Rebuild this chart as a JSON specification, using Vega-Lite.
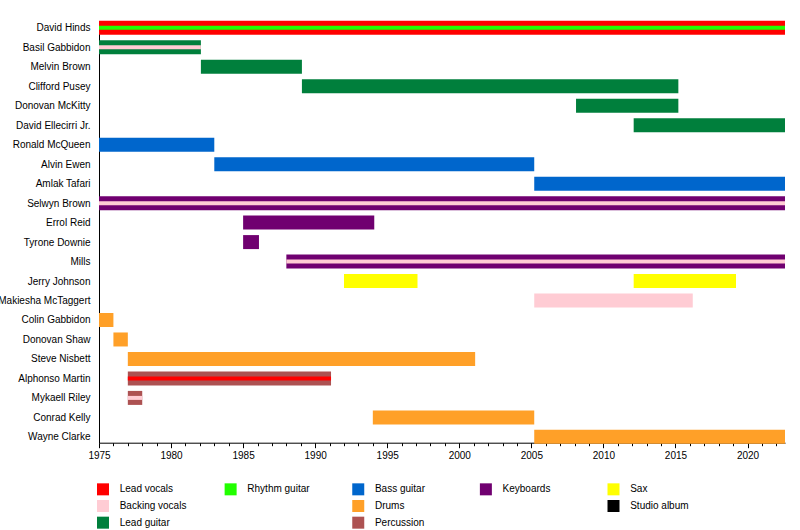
{
  "$schema": "https://vega.github.io/schema/vega-lite/v6.json",
  "padding": {"left": -3, "top": 20, "right": 14, "bottom": 0},
  "bounds": "flush",
  "spacing": 38,
  "background": "white",
  "config": {
    "font": "Liberation Sans",
    "view": {"stroke": null},
    "axis": {"labelFont": "Liberation Sans", "labelColor": "#000", "domainColor": "#000", "tickColor": "#000", "grid": false, "title": null}
  },
  "datasets": {
    "bars": [
      {"name": "David Hinds", "start": 1975, "end": 2022.6, "role": "Lead vocals"},
      {"name": "Basil Gabbidon", "start": 1975, "end": 1982.07, "role": "Lead guitar"},
      {"name": "Melvin Brown", "start": 1982.07, "end": 1989.08, "role": "Lead guitar"},
      {"name": "Clifford Pusey", "start": 1989.08, "end": 2015.2, "role": "Lead guitar"},
      {"name": "Donovan McKitty", "start": 2008.1, "end": 2015.2, "role": "Lead guitar"},
      {"name": "David Ellecirri Jr.", "start": 2012.1, "end": 2022.6, "role": "Lead guitar"},
      {"name": "Ronald McQueen", "start": 1975, "end": 1983.0, "role": "Bass guitar"},
      {"name": "Alvin Ewen", "start": 1983.0, "end": 2005.2, "role": "Bass guitar"},
      {"name": "Amlak Tafari", "start": 2005.2, "end": 2022.6, "role": "Bass guitar"},
      {"name": "Selwyn Brown", "start": 1975, "end": 2022.6, "role": "Keyboards"},
      {"name": "Errol Reid", "start": 1985, "end": 1994.1, "role": "Keyboards"},
      {"name": "Tyrone Downie", "start": 1985, "end": 1986.1, "role": "Keyboards"},
      {"name": "Mills", "start": 1988, "end": 2022.6, "role": "Keyboards"},
      {"name": "Jerry Johnson", "start": 1992, "end": 1997.1, "role": "Sax"},
      {"name": "Jerry Johnson", "start": 2012.1, "end": 2019.2, "role": "Sax"},
      {"name": "Makiesha McTaggert", "start": 2005.2, "end": 2016.2, "role": "Backing vocals"},
      {"name": "Colin Gabbidon", "start": 1975, "end": 1976, "role": "Drums"},
      {"name": "Donovan Shaw", "start": 1976, "end": 1977, "role": "Drums"},
      {"name": "Steve Nisbett", "start": 1977, "end": 2001.1, "role": "Drums"},
      {"name": "Alphonso Martin", "start": 1977, "end": 1991.1, "role": "Percussion"},
      {"name": "Mykaell Riley", "start": 1977, "end": 1978, "role": "Percussion"},
      {"name": "Conrad Kelly", "start": 1994, "end": 2005.2, "role": "Drums"},
      {"name": "Wayne Clarke", "start": 2005.2, "end": 2022.6, "role": "Drums"}
    ],
    "stripes": [
      {"name": "David Hinds", "start": 1975, "end": 2022.6, "role": "Rhythm guitar"},
      {"name": "Basil Gabbidon", "start": 1975, "end": 1982.07, "role": "Backing vocals"},
      {"name": "Selwyn Brown", "start": 1975, "end": 2022.6, "role": "Backing vocals"},
      {"name": "Mills", "start": 1988, "end": 2022.6, "role": "Backing vocals"},
      {"name": "Alphonso Martin", "start": 1977, "end": 1991.1, "role": "Lead vocals"},
      {"name": "Mykaell Riley", "start": 1977, "end": 1978, "role": "Backing vocals"}
    ],
    "legend": [
      {"role": "Lead vocals", "legendColumn": 1, "legendRow": 1},
      {"role": "Backing vocals", "legendColumn": 1, "legendRow": 2},
      {"role": "Lead guitar", "legendColumn": 1, "legendRow": 3},
      {"role": "Rhythm guitar", "legendColumn": 2, "legendRow": 1},
      {"role": "Bass guitar", "legendColumn": 3, "legendRow": 1},
      {"role": "Drums", "legendColumn": 3, "legendRow": 2},
      {"role": "Percussion", "legendColumn": 3, "legendRow": 3},
      {"role": "Keyboards", "legendColumn": 4, "legendRow": 1},
      {"role": "Sax", "legendColumn": 5, "legendRow": 1},
      {"role": "Studio album", "legendColumn": 5, "legendRow": 2}
    ]
  },
  "vconcat": [
    {
      "width": 686,
      "height": 420.7,
      "encoding": {
        "y": {
          "field": "name", "type": "nominal",
          "scale": {"type": "point", "padding": 0.3, "domain": ["David Hinds", "Basil Gabbidon", "Melvin Brown", "Clifford Pusey", "Donovan McKitty", "David Ellecirri Jr.", "Ronald McQueen", "Alvin Ewen", "Amlak Tafari", "Selwyn Brown", "Errol Reid", "Tyrone Downie", "Mills", "Jerry Johnson", "Makiesha McTaggert", "Colin Gabbidon", "Donovan Shaw", "Steve Nisbett", "Alphonso Martin", "Mykaell Riley", "Conrad Kelly", "Wayne Clarke"]},
          "axis": {"ticks": false, "labelFontSize": 10, "labelPadding": 9, "labelLimit": 0, "domainColor": "#000", "domainWidth": 1}
        },
        "x": {
          "field": "start", "type": "quantitative",
          "scale": {"domain": [1975, 2022.6], "nice": false, "zero": false},
          "axis": {
            "values": [1975, 1976, 1977, 1978, 1979, 1980, 1981, 1982, 1983, 1984, 1985, 1986, 1987, 1988, 1989, 1990, 1991, 1992, 1993, 1994, 1995, 1996, 1997, 1998, 1999, 2000, 2001, 2002, 2003, 2004, 2005, 2006, 2007, 2008, 2009, 2010, 2011, 2012, 2013, 2014, 2015, 2016, 2017, 2018, 2019, 2020, 2021, 2022],
            "format": "d",
            "labelExpr": "datum.value % 5 === 0 ? datum.label : ''",
            "labelOverlap": false,
            "labelFlush": false,
            "labelFontSize": 10,
            "labelPadding": 3,
            "tickSize": {"condition": {"test": "datum.value % 5 === 0", "value": 5}, "value": 3}
          }
        },
        "x2": {"field": "end"},
        "color": {
          "field": "role", "type": "nominal",
          "scale": {
            "domain": ["Lead vocals", "Backing vocals", "Lead guitar", "Rhythm guitar", "Bass guitar", "Drums", "Percussion", "Keyboards", "Sax", "Studio album"],
            "range": ["#FF0000", "#FFCCD4", "#007F3C", "#22FF00", "#0066CC", "#FFA028", "#AD5252", "#700070", "#FFFF00", "#000000"]
          },
          "legend": null
        }
      },
      "layer": [
        {"data": {"name": "bars"}, "mark": {"type": "bar", "size": 14}},
        {"data": {"name": "stripes"}, "mark": {"type": "bar", "size": 4}}
      ]
    },
    {
      "width": 510.5,
      "height": 50,
      "data": {"name": "legend"},
      "encoding": {
        "x": {"field": "legendColumn", "type": "ordinal", "scale": {"type": "point", "padding": 0}, "axis": null},
        "y": {"field": "legendRow", "type": "ordinal", "scale": {"type": "point", "padding": 0.5}, "axis": null}
      },
      "layer": [
        {
          "mark": {"type": "square", "size": 144, "filled": true, "opacity": 1, "xOffset": 4},
          "encoding": {"color": {"field": "role", "type": "nominal", "legend": null}}
        },
        {
          "mark": {"type": "text", "align": "left", "baseline": "middle", "xOffset": 20.7, "fontSize": 10, "font": "Liberation Sans", "color": "#000"},
          "encoding": {"text": {"field": "role"}}
        }
      ]
    }
  ]
}
